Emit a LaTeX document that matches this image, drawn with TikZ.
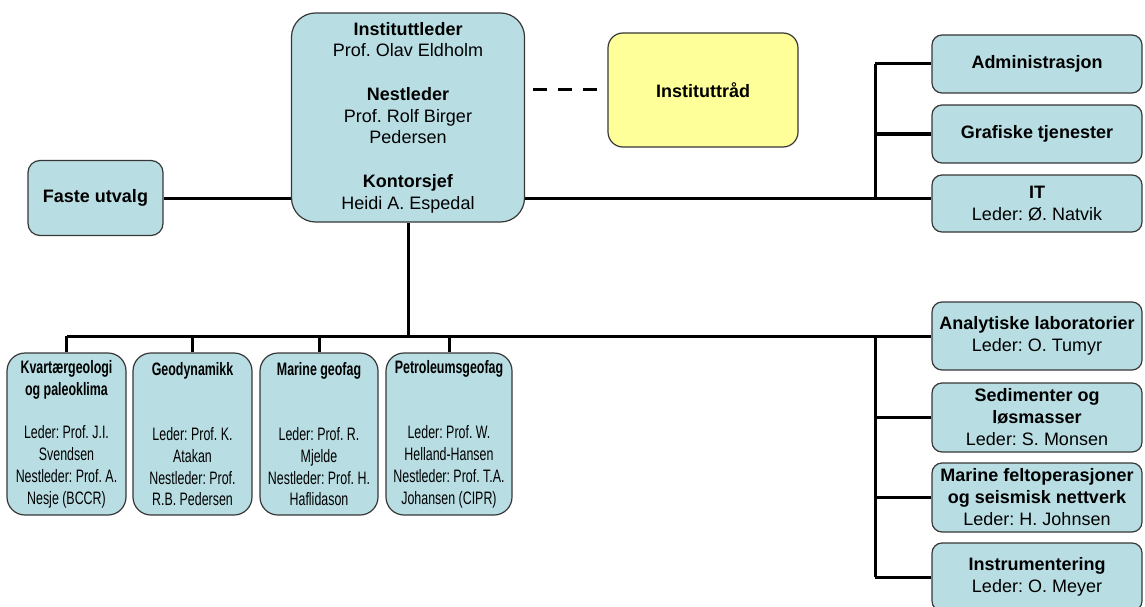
\documentclass[tikz,border=0pt]{standalone}
\usepackage{fontspec}
\setmainfont{Liberation Sans}
\newfontfamily\narrowfont[FakeStretch=0.69]{Liberation Sans}
\frenchspacing
\usepackage{tikz}
\usetikzlibrary{
  positioning,
  backgrounds
}
\definecolor{unitblue}{RGB}{184,222,228}
\definecolor{raadyellow}{RGB}{255,255,153}
\definecolor{unitedge}{RGB}{55,55,55}

\begin{document}
\begin{tikzpicture}[x=1pt,y=-1pt,
  unit/.style={draw=unitedge,line width=1.2pt,fill=unitblue,align=center,
    inner sep=2pt,font=\fontsize{18}{21.75}\selectfont},
  leder/.style={unit,rounded corners=24pt,minimum width=233pt,minimum height=209pt},
  fag/.style={unit,rounded corners=18pt,minimum height=162pt,
    font=\narrowfont\fontsize{18}{21.8}\selectfont},
  stab/.style={unit,rounded corners=10pt,minimum width=210pt,
    font=\fontsize{18}{22}\selectfont},
  link/.style={line width=3pt}
]
  \useasboundingbox (0,0) rectangle (1145,607);
  \clip (0,0) rectangle (1145,607);

  % ledelse
  \node[leder] (leder) at (408,117.5)
    {\textbf{Instituttleder}\\Prof. Olav Eldholm\\~\\\textbf{Nestleder}\\Prof. Rolf Birger\\Pedersen\\~\\\textbf{Kontorsjef}\\Heidi A. Espedal};
  \node[unit,rounded corners=15pt,fill=raadyellow,minimum width=190pt,minimum height=114pt] (raad) at (703,90)
    {\textbf{Instituttråd}};
  \node[unit,rounded corners=12pt,minimum width=135pt,minimum height=75pt] (faste) at (95.5,198)
    {\textbf{Faste utvalg}};

  % stab til høyre
  \coordinate (hub) at (875,0);
  \node[stab,minimum height=58pt] (admin) at (1037,64) {\textbf{Administrasjon}};
  \node[stab,minimum height=58pt] (grafisk) at (1037,134) {\textbf{Grafiske tjenester}};
  \node[stab,minimum height=57pt] (it) at (1037,203.5) {\textbf{IT}\\Leder: Ø. Natvik};
  \node[stab,minimum height=68pt] (lab) at (1037,336) {\textbf{Analytiske laboratorier}\\Leder: O. Tumyr};
  \node[stab,minimum height=69pt] (sed) at (1037,417.5) {\textbf{Sedimenter og}\\\textbf{løsmasser}\\Leder: S. Monsen};
  \node[stab,minimum height=69pt] (felt) at (1037,497.5) {\textbf{Marine feltoperasjoner}\\\textbf{og seismisk nettverk}\\Leder: H. Johnsen};
  \node[stab,minimum height=68pt] (instr) at (1037,577) {\textbf{Instrumentering}\\Leder: O. Meyer};

  % faggrupper
  \node[fag,minimum width=119pt] (kvart) at (66.5,434)
    {\textbf{Kvartærgeologi}\\\textbf{og paleoklima}\\~\\Leder: Prof. J.I.\\Svendsen\\Nestleder: Prof. A.\\Nesje (BCCR)};
  \node[fag,minimum width=119pt] (geodyn) at (192.5,434)
    {\textbf{Geodynamikk}\\~\\~\\Leder: Prof. K.\\Atakan\\Nestleder: Prof.\\R.B. Pedersen};
  \node[fag,minimum width=118pt] (marin) at (319,434)
    {\textbf{Marine geofag}\\~\\~\\Leder: Prof. R.\\Mjelde\\Nestleder: Prof. H.\\Haflidason};
  \node[fag,minimum width=126pt] (petro) at (449,434)
    {\textbf{Petroleumsgeofag}\\~\\~\\Leder: Prof. W.\\Helland-Hansen\\Nestleder: Prof. T.A.\\Johansen (CIPR)};

  \begin{scope}[on background layer]
    \fill[white] (0,0) rectangle (1145,607);
    \draw[link,dash pattern=on 14pt off 11pt] ([xshift=8pt]leder.east |- raad.west) -- ([xshift=-3pt]raad.west);
    \draw[link] (faste.east) -- (faste.east -| it.west);
    \draw[link] (hub |- admin.west) -- (hub |- faste.east);
    \draw[link] (hub |- admin.west) -- (admin.west);
    \draw[link] (hub |- grafisk.west) -- (grafisk.west);
    % nedover
    \draw[link] (leder.south) -- (leder.south |- lab.west);
    \draw[link] (kvart.north |- lab.west) -- (lab.west);
    \foreach \g in {kvart,geodyn,marin,petro}
      \draw[link] (\g.north |- lab.west) -- (\g.north);
    \draw[link] (hub |- lab.west) -- (hub |- instr.west);
    \foreach \s in {sed,felt,instr}
      \draw[link] (hub |- \s.west) -- (\s.west);
  \end{scope}
\end{tikzpicture}
\end{document}
